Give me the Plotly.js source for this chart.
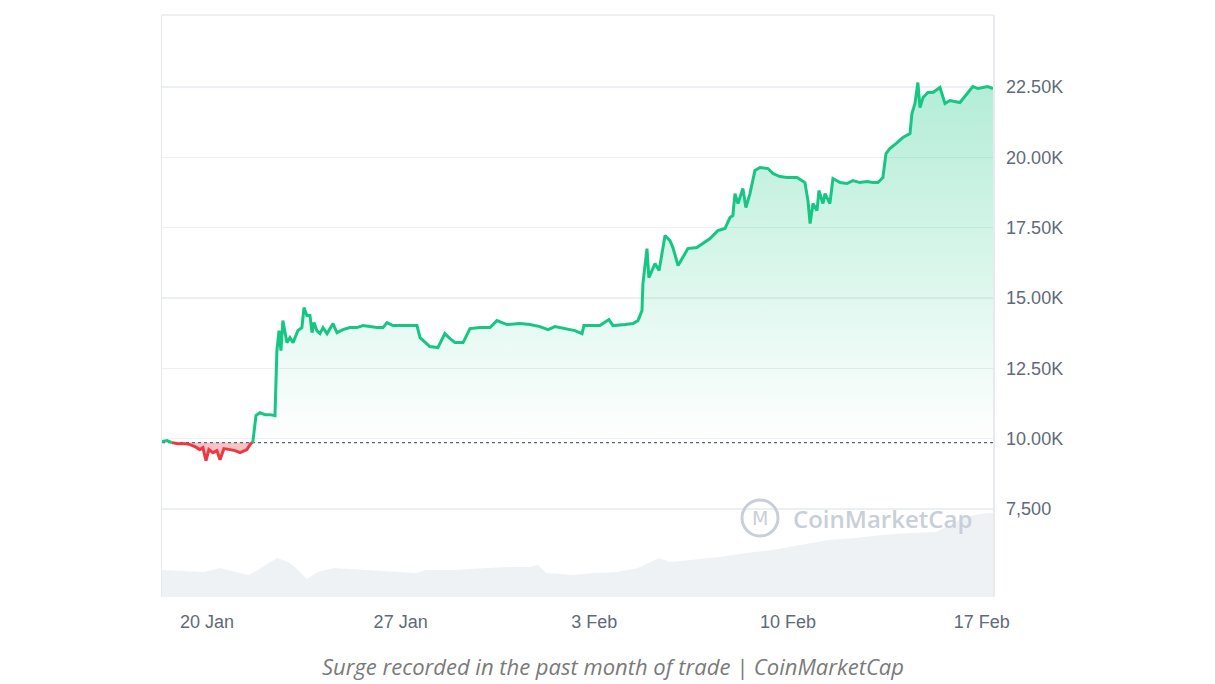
<!DOCTYPE html>
<html>
<head>
<meta charset="utf-8">
<script src="https://cdn.plot.ly/plotly-3.0.1.min.js"></script>
<style>
html,body{margin:0;padding:0;background:#fff;}
#chart{width:1215px;height:684px;}
</style>
</head>
<body>
<div id="chart"></div>
<script>
// ---- Data ----
const priceTimes = [
"2025-01-18 09:00","2025-01-18 13:20","2025-01-18 17:40","2025-01-18 22:50","2025-01-19 04:50","2025-01-19 09:20",
"2025-01-19 13:40","2025-01-19 17:50","2025-01-19 20:30","2025-01-19 23:10","2025-01-20 01:40","2025-01-20 05:10",
"2025-01-20 08:40","2025-01-20 11:20","2025-01-20 14:40","2025-01-20 20:00","2025-01-21 00:20","2025-01-21 04:40",
"2025-01-21 08:10","2025-01-21 10:40","2025-01-21 13:20","2025-01-21 15:50","2025-01-21 18:30","2025-01-21 22:00",
"2025-01-22 02:20","2025-01-22 06:40","2025-01-22 11:00","2025-01-22 12:40","2025-01-22 14:30","2025-01-22 16:10",
"2025-01-22 17:50","2025-01-22 21:20","2025-01-23 00:00","2025-01-23 02:40","2025-01-23 06:50","2025-01-23 10:20",
"2025-01-23 12:10","2025-01-23 14:40","2025-01-23 17:20","2025-01-23 19:10","2025-01-23 20:50","2025-01-23 23:20",
"2025-01-24 02:00","2025-01-24 04:40","2025-01-24 08:10","2025-01-24 13:20","2025-01-24 16:50","2025-01-24 22:00",
"2025-01-25 04:00","2025-01-25 10:10","2025-01-25 15:20","2025-01-25 21:20","2025-01-26 03:30","2025-01-26 08:40",
"2025-01-26 12:10","2025-01-26 17:20","2025-01-26 23:20","2025-01-27 08:10","2025-01-27 14:10","2025-01-27 16:50",
"2025-01-27 21:10","2025-01-28 01:20","2025-01-28 08:20","2025-01-28 14:20","2025-01-28 18:50","2025-01-28 23:10",
"2025-01-29 06:10","2025-01-29 12:10","2025-01-29 20:50","2025-01-30 05:30","2025-01-30 11:30","2025-01-30 20:10",
"2025-01-31 07:30","2025-01-31 16:10","2025-02-01 00:50","2025-02-01 07:50","2025-02-01 13:50","2025-02-02 00:20",
"2025-02-02 07:10","2025-02-02 13:20","2025-02-02 15:00","2025-02-02 21:50","2025-02-03 04:50","2025-02-03 12:40",
"2025-02-03 16:10","2025-02-04 02:40","2025-02-04 09:30","2025-02-04 13:50","2025-02-04 17:20","2025-02-04 18:10",
"2025-02-04 21:40","2025-02-04 23:20","2025-02-05 04:40","2025-02-05 08:10","2025-02-05 13:20","2025-02-05 17:40",
"2025-02-05 20:10","2025-02-06 00:40","2025-02-06 04:00","2025-02-06 09:10","2025-02-06 17:00","2025-02-06 22:10",
"2025-02-07 04:20","2025-02-07 11:10","2025-02-07 17:20","2025-02-07 21:40","2025-02-08 00:10","2025-02-08 02:00",
"2025-02-08 04:40","2025-02-08 08:50","2025-02-08 11:30","2025-02-08 15:00","2025-02-08 19:20","2025-02-08 23:40",
"2025-02-09 06:40","2025-02-09 11:00","2025-02-09 17:00","2025-02-09 23:10","2025-02-10 07:50","2025-02-10 14:40",
"2025-02-10 17:20","2025-02-10 19:10","2025-02-10 21:40","2025-02-11 01:10","2025-02-11 02:50","2025-02-11 06:20",
"2025-02-11 08:10","2025-02-11 12:20","2025-02-11 15:00","2025-02-11 21:10","2025-02-12 03:10","2025-02-12 08:20",
"2025-02-12 14:20","2025-02-12 20:30","2025-02-13 01:40","2025-02-13 06:00","2025-02-13 10:20","2025-02-13 13:00",
"2025-02-13 16:20","2025-02-13 21:40","2025-02-14 03:40","2025-02-14 09:50","2025-02-14 11:30","2025-02-14 14:10",
"2025-02-14 16:40","2025-02-14 18:30","2025-02-14 21:10","2025-02-15 01:20","2025-02-15 05:40","2025-02-15 11:50",
"2025-02-15 16:10","2025-02-15 20:30","2025-02-16 00:50","2025-02-16 05:10","2025-02-16 12:10","2025-02-16 16:20",
"2025-02-16 20:50","2025-02-17 01:10","2025-02-17 05:20","2025-02-17 09:50"
];
const prices = [
9893,9929,9858,9822,9822,9787,
9716,9609,9680,9218,9609,9502,
9573,9253,9644,9609,9573,9502,
9573,9609,9787,9893,10818,10925,
10853,10853,10818,13129,13840,13129,
14196,13414,13592,13414,13840,13947,
14658,14374,14374,13769,14125,13840,
13734,13947,13734,14089,13769,13876,
13947,13947,14018,13982,13947,13947,
14125,14018,14018,14018,14018,13592,
13414,13272,13236,13734,13556,13414,
13414,13911,13947,13947,14196,14054,
14089,14054,13982,13876,13982,13911,
13840,13734,14018,14018,14018,14232,
14018,14054,14089,14196,14552,15512,
16756,15725,16223,15974,17219,17041,
16792,16152,16401,16756,16792,16934,
17112,17396,17468,17859,17930,18712,
18357,18890,18214,18712,19530,19637,
19601,19423,19317,19281,19281,19103,
18463,17645,18357,18108,18819,18357,
18712,18357,19246,19103,19068,19174,
19103,19139,19103,19103,19281,20135,
20312,20490,20704,20846,21557,21913,
22659,21770,22126,22304,22304,22482,
21913,22019,21984,21948,22304,22517,
22446,22482,22517,22446
];
const referencePrice = 9860;

const volumeTimes = [
"2025-01-18 09:00","2025-01-19 21:20","2025-01-20 11:20","2025-01-21 11:40","2025-01-21 20:10","2025-01-22 12:40",
"2025-01-22 22:20","2025-01-23 05:10","2025-01-23 14:40","2025-01-24 00:20","2025-01-24 14:10","2025-01-25 18:50",
"2025-01-26 18:10","2025-01-27 13:20","2025-01-27 22:00","2025-01-28 22:20","2025-01-30 02:00","2025-01-30 21:10",
"2025-01-31 15:20","2025-01-31 23:10","2025-02-01 06:10","2025-02-02 05:30","2025-02-02 23:40","2025-02-03 18:50",
"2025-02-04 13:50","2025-02-05 08:10","2025-02-05 17:40","2025-02-06 12:40","2025-02-07 12:10","2025-02-08 11:30",
"2025-02-09 10:50","2025-02-10 10:20","2025-02-11 10:40","2025-02-12 10:10","2025-02-13 09:30","2025-02-14 08:50",
"2025-02-15 08:20","2025-02-16 07:50","2025-02-16 17:20","2025-02-17 04:40","2025-02-17 09:50"
];
const volumes = [
270,250,290,220,270,390,
350,290,180,250,290,270,
260,240,270,270,290,300,
300,320,240,220,240,250,
290,390,350,370,400,440,
470,520,570,590,620,640,
650,790,820,840,840
];

const xTickDates = ["2025-01-20","2025-01-27","2025-02-03","2025-02-10","2025-02-17"];
const xTickLabels = ["20 Jan","27 Jan","3 Feb","10 Feb","17 Feb"];
const yTickValues = [7500,10000,12500,15000,17500,20000,22500];
const yTickLabels = ["7,500","10.00K","12.50K","15.00K","17.50K","20.00K","22.50K"];

// ---- Split the series at the reference price ----
const toMs = s => new Date(s.replace(" ","T")+":00Z").getTime();
const fmt = ms => new Date(ms).toISOString().slice(0,19).replace("T"," ");
const allX=[], upY=[], downY=[], lineUp=[], lineDown=[];
for (let i=0;i<prices.length;i++){
  if (i>0){
    const a=prices[i-1]-referencePrice, b=prices[i]-referencePrice;
    if (a*b<0){
      const t0=toMs(priceTimes[i-1]), t1=toMs(priceTimes[i]);
      const tc=t0+(t1-t0)*(a/(a-b));
      allX.push(fmt(tc)); upY.push(referencePrice); downY.push(referencePrice);
      lineUp.push(referencePrice); lineDown.push(referencePrice);
    }
  }
  const p=prices[i];
  allX.push(priceTimes[i]);
  upY.push(Math.max(p,referencePrice));
  downY.push(Math.min(p,referencePrice));
  lineUp.push(p>=referencePrice?p:null);
  lineDown.push(p<=referencePrice?p:null);
}
const refY = allX.map(()=>referencePrice);

const GREEN='#16c784', RED='#ea3943';
const traces = [
  {x:volumeTimes, y:volumes, yaxis:'y2', type:'scatter', mode:'lines', line:{width:0, shape:'linear'},
   fill:'tozeroy', fillcolor:'#eff2f5', hoverinfo:'skip', showlegend:false},
  {x:allX, y:refY, mode:'lines', line:{width:0}, hoverinfo:'skip', showlegend:false},
  {x:allX, y:upY, mode:'lines', line:{width:0}, fill:'tonexty',
   fillgradient:{type:'vertical', start:referencePrice, stop:22700,
     colorscale:[[0,'rgba(22,199,132,0.0)'],[1,'rgba(22,199,132,0.33)']]},
   hoverinfo:'skip', showlegend:false},
  {x:allX, y:refY, mode:'lines', line:{width:0}, hoverinfo:'skip', showlegend:false},
  {x:allX, y:downY, mode:'lines', line:{width:0}, fill:'tonexty', fillcolor:'rgba(234,57,67,0.3)',
   hoverinfo:'skip', showlegend:false},
  {x:allX, y:refY, mode:'lines', line:{color:'#58667e', width:1.3, dash:'dot'}, hoverinfo:'skip', showlegend:false},
  {x:allX, y:lineUp, mode:'lines', line:{color:GREEN, width:3}, connectgaps:false, showlegend:false},
  {x:allX, y:lineDown, mode:'lines', line:{color:RED, width:3}, connectgaps:false, showlegend:false}
];

const tickFont = {family:'Liberation Sans, Arial, sans-serif', size:18, color:'#616a78'};
const layout = {
  width:1215, height:684,
  margin:{l:162, r:222, t:15, b:87},
  paper_bgcolor:'#ffffff', plot_bgcolor:'#ffffff',
  showlegend:false,
  xaxis:{type:'date', range:['2025-01-18 09:00','2025-02-17 09:50'],
    tickvals:xTickDates, ticktext:xTickLabels, showgrid:false, zeroline:false,
    showline:false, ticks:'outside', ticklen:8, tickcolor:'rgba(0,0,0,0)', tickfont:tickFont},
  yaxis:{range:[4370,25060], side:'right', tickvals:yTickValues, ticktext:yTickLabels,
    showgrid:true, gridcolor:'#eceff3', gridwidth:1.3, zeroline:false,
    showline:true, mirror:true, linecolor:'#e8eaed', linewidth:1.5,
    ticks:'outside', ticklen:8, tickcolor:'rgba(0,0,0,0)', tickfont:tickFont},
  yaxis2:{overlaying:'y', range:[0,5820], visible:false, showgrid:false, zeroline:false},
  shapes:[
    {type:'line', xref:'paper', yref:'paper', x0:0, x1:1, y0:1, y1:1, line:{color:'#e8eaed', width:1.5}},
    {type:'circle', xref:'paper', yref:'paper', x0:(742-162)/831, x1:(778-162)/831,
     y0:(597-536)/582, y1:(597-500)/582, line:{color:'#c9cfd8', width:3}, layer:'above'}
  ],
  annotations:[
    {xref:'paper', yref:'paper', x:(760-162)/831, y:(597-518)/582, text:'M', showarrow:false,
     font:{family:'DejaVu Sans, sans-serif', size:19, color:'#c9cfd8'}, xanchor:'center', yanchor:'middle'},
    {xref:'paper', yref:'paper', x:(791-162)/831, y:(597-518)/582, text:'CoinMarketCap', showarrow:false,
     font:{family:'Open Sans, sans-serif', size:24, color:'#c9cfd8', weight:600}, xanchor:'left', yanchor:'middle'},
    {xref:'paper', yref:'paper', x:(613-162)/831, y:-(666-597)/582, text:'<i>Surge recorded in the past month of trade | CoinMarketCap</i>',
     showarrow:false, font:{family:'Open Sans, sans-serif', size:22, color:'#7a7a7a'}, xanchor:'center', yanchor:'middle'}
  ]
};

Plotly.newPlot('chart', traces, layout, {displayModeBar:false, staticPlot:true});
</script>
</body>
</html>
